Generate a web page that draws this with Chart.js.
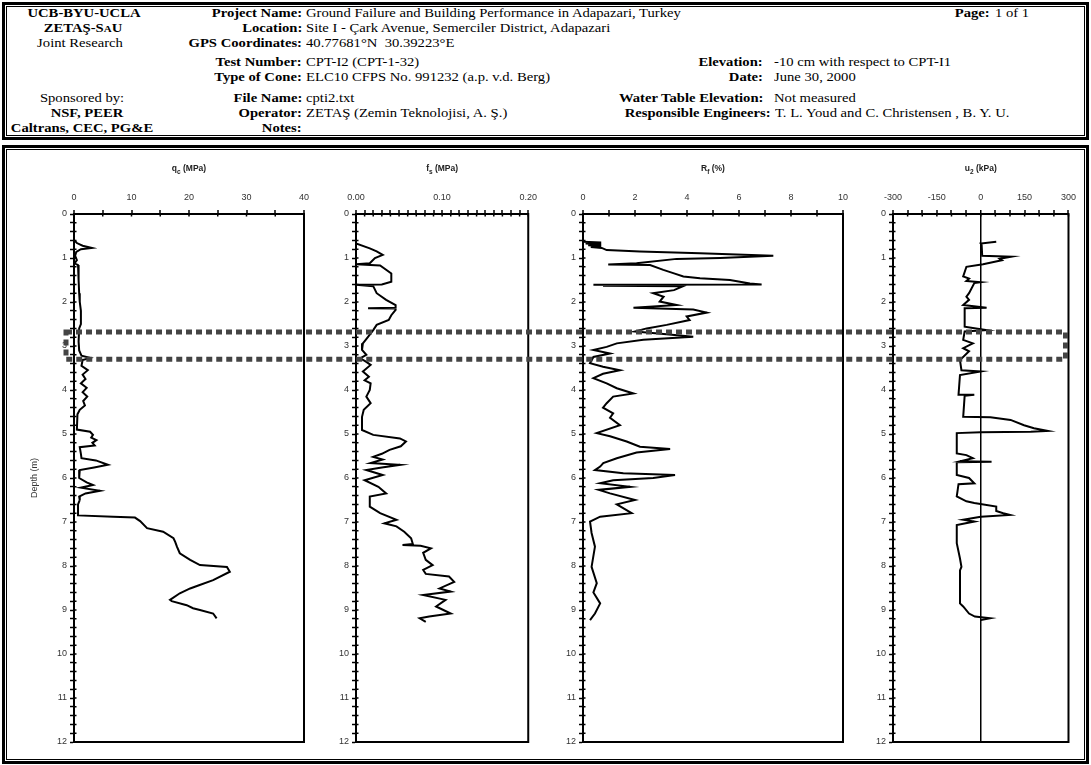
<!DOCTYPE html>
<html>
<head>
<meta charset="utf-8">
<title>CPT-I2 sounding log</title>
<script src="https://cdn.jsdelivr.net/npm/chart.js@4.4.1/dist/chart.umd.min.js"></script>
<style>
  html, body { margin: 0; padding: 0; background: #fff; }
  #page { position: relative; width: 1091px; height: 765px; overflow: hidden;
          font-family: "Liberation Serif", "Times New Roman", serif; color: #000; }
  .box { position: absolute; border: 3px solid #000; box-sizing: border-box; }
  .box .inner { position: absolute; left: 1px; top: 1px; right: 1px; bottom: 1px; border: 1px solid #000; }
  .t { position: absolute; white-space: nowrap; font-size: 12px; line-height: 14px; }
  .b { font-weight: bold; }
  canvas { position: absolute; }
</style>
</head>
<body>
<div id="page">
  <div class="box" style="left:2px;top:2px;width:1087px;height:138px;"><div class="inner"></div></div>
  <div class="box" style="left:2px;top:145px;width:1087px;height:619px;"><div class="inner"></div></div>
  <div id="header"></div>
  <canvas id="c0"></canvas>
  <canvas id="c1"></canvas>
  <canvas id="c2"></canvas>
  <canvas id="c3"></canvas>
  <canvas id="overlay" width="1091" height="765" style="left:0;top:0;pointer-events:none;"></canvas>
</div>
<script>
// ---- sounding data: depth (m) and measured value ----
const qcDepth = [0.59,0.66,0.72,0.77,0.80,0.86,0.95,1.05,1.12,1.16,1.50,1.80,2.00,2.20,2.50,2.60,2.90,3.10,3.22,3.27,3.32,3.45,3.55,3.65,3.75,3.85,3.95,4.05,4.15,4.25,4.35,4.45,4.55,4.90,4.95,5.02,5.08,5.14,5.20,5.26,5.30,5.45,5.55,5.60,5.70,5.76,5.82,6.00,6.10,6.16,6.22,6.29,6.35,6.42,6.50,6.60,6.85,6.88,6.90,6.98,7.14,7.22,7.37,7.45,7.56,7.71,7.86,7.98,8.02,8.13,8.32,8.45,8.51,8.62,8.77,8.80,8.89,8.96,9.00,9.08,9.19];
const qcValue = [0.0,0.5,1.5,3.1,1.2,0.4,0.2,0.5,0.1,0.7,0.8,0.9,1.0,1.2,1.2,0.9,0.8,0.9,1.3,2.8,1.5,1.3,2.4,1.5,2.0,1.2,2.2,1.5,2.3,1.6,1.9,1.0,0.6,0.5,2.8,3.3,3.0,3.9,3.2,3.6,1.0,1.2,1.3,3.8,5.9,3.5,1.0,0.9,2.2,3.3,1.2,4.5,2.0,0.9,1.0,0.7,0.7,6.8,10.6,11.5,12.7,15.5,17.3,17.6,17.9,18.4,20.2,21.9,26.6,27.1,24.2,21.5,20.2,18.4,16.7,17.0,19.6,20.7,21.9,24.2,24.8];

const fsDepth = [0.67,0.78,0.85,0.93,1.00,1.12,1.14,1.17,1.35,1.54,1.60,1.61,1.64,1.80,1.95,2.07,2.13,2.14,2.15,2.18,2.30,2.41,2.52,2.64,2.79,2.94,3.09,3.20,3.28,3.36,3.43,3.58,3.70,3.78,3.85,4.00,4.15,4.30,4.45,4.61,4.91,5.02,5.10,5.17,5.28,5.36,5.45,5.52,5.58,5.66,5.70,5.76,5.82,5.93,6.05,6.20,6.35,6.42,6.65,6.80,6.95,7.03,7.10,7.22,7.37,7.50,7.52,7.54,7.60,7.70,7.86,7.98,8.09,8.18,8.24,8.36,8.51,8.58,8.66,8.77,8.92,9.08,9.15,9.19,9.27];
const fsValue = [0.000,0.016,0.024,0.031,0.022,0.016,0.000,0.028,0.041,0.041,0.030,0.000,0.020,0.024,0.035,0.046,0.046,0.014,0.046,0.046,0.041,0.038,0.024,0.020,0.014,0.008,0.007,0.012,0.005,0.012,0.017,0.008,0.015,0.010,0.017,0.016,0.012,0.017,0.009,0.007,0.007,0.020,0.051,0.058,0.052,0.039,0.030,0.020,0.031,0.017,0.051,0.030,0.012,0.031,0.010,0.026,0.035,0.016,0.016,0.028,0.047,0.033,0.047,0.056,0.064,0.066,0.054,0.075,0.087,0.078,0.081,0.089,0.078,0.081,0.108,0.114,0.097,0.110,0.078,0.104,0.093,0.110,0.085,0.074,0.081];

const rfDepth = [0.63,0.65,0.67,0.69,0.71,0.73,0.75,0.77,0.82,0.85,0.89,0.95,1.00,1.02,1.12,1.15,1.16,1.27,1.35,1.42,1.46,1.50,1.58,1.60,1.61,1.615,1.62,1.625,1.63,1.64,1.73,1.80,1.88,1.99,2.07,2.13,2.17,2.24,2.33,2.41,2.52,2.60,2.67,2.72,2.79,2.86,2.94,3.02,3.09,3.17,3.25,3.39,3.47,3.55,3.63,3.73,3.85,3.96,4.08,4.15,4.30,4.40,4.53,4.63,4.80,4.98,5.05,5.17,5.29,5.34,5.42,5.55,5.66,5.74,5.82,5.89,5.93,6.00,6.05,6.12,6.20,6.27,6.35,6.50,6.60,6.80,6.88,6.99,7.25,7.56,8.02,8.39,8.60,8.85,9.08,9.23];
const rfValue = [0.00,0.70,0.10,0.70,0.20,0.70,0.30,0.72,0.91,2.19,4.50,7.32,5.27,3.60,2.06,0.97,2.58,3.09,3.50,3.86,4.50,5.65,6.42,6.87,0.40,3.50,0.80,3.70,0.77,3.85,3.50,2.70,3.10,2.95,3.60,1.94,4.24,4.76,3.99,4.10,3.22,2.45,2.00,3.00,4.24,2.32,1.30,0.91,0.40,1.04,0.40,0.27,0.77,1.42,0.77,0.40,0.91,1.30,1.94,1.16,0.91,0.77,1.16,1.04,1.42,0.53,1.04,1.68,2.19,3.35,2.06,1.30,0.78,0.66,0.46,1.55,3.54,2.70,1.16,0.66,1.81,0.60,1.04,2.00,1.30,1.87,0.66,0.27,0.33,0.46,0.33,0.53,0.40,0.66,0.46,0.27];

const u2Depth = [0.63,0.67,0.70,0.95,0.97,1.02,1.05,1.14,1.20,1.42,1.47,1.52,1.55,1.57,1.80,1.88,1.95,2.07,2.13,2.14,2.41,2.56,2.64,2.67,2.86,2.94,3.05,3.12,3.32,3.55,3.58,3.66,4.11,4.11,4.13,4.61,4.62,4.68,4.80,4.87,4.93,4.95,4.96,4.98,5.44,5.48,5.55,5.62,5.63,5.64,5.93,6.00,6.12,6.14,6.42,6.53,6.57,6.65,6.75,6.80,6.84,6.88,6.95,6.99,7.07,7.48,7.83,8.02,8.10,8.85,8.92,9.08,9.15,9.19,9.23];
const u2Value = [53,0,3,5,105,65,72,8,-49,-60,-40,-49,0,-22,-40,-49,-40,-60,20,-55,-55,-55,20,-55,-60,-27,-60,-40,-71,-66,0,-71,-76,-22,-55,-60,33,102,148,182,229,171,0,-82,-82,-49,-27,-71,37,-82,-82,-40,-22,-76,-82,-49,-22,53,53,77,100,0,-60,-22,-82,-82,-71,-66,-71,-71,-60,-40,-20,32,0];

// ---- axis ranges and tick labels ----
const depthRange = [0, 12];
const qcAxis = { min: 0, max: 40, step: 5, labels: ['0', '10', '20', '30', '40'] };
const fsAxis = { min: 0, max: 0.2, step: 0.01, labels: ['0.00', '0.10', '0.20'] };
const rfAxis = { min: 0, max: 10, step: 1, labels: ['0', '2', '4', '6', '8', '10'] };
const u2Axis = { min: -300, max: 300, step: 50, labels: ['-300', '-150', '0', '150', '300'] };
const markedLayer = [2.68, 3.30];   // depth band outlined across all logs

// ---- header block ----
const header = document.getElementById('header');
function put(html, x, y, align, cls, sx) {
  const el = document.createElement('div');
  el.className = 't' + (cls ? ' ' + cls : '');
  el.innerHTML = html;
  el.style.top = (y - 7) + 'px';
  const s = sx || 1.22;
  if (align === 'left') {
    el.style.left = x + 'px';
    el.style.transformOrigin = 'left center';
    el.style.transform = 'scaleX(' + s + ')';
  } else if (align === 'right') {
    el.style.right = (1091 - x) + 'px';
    el.style.transformOrigin = 'right center';
    el.style.transform = 'scaleX(' + s + ')';
  } else {
    el.style.left = x + 'px';
    el.style.transformOrigin = 'center center';
    el.style.transform = 'translateX(-50%) scaleX(' + s + ')';
  }
  header.appendChild(el);
}
const rows = [13, 28, 43, 62, 77, 98, 113, 128];
put('UCB-BYU-UCLA', 84, rows[0], 'center', 'b');
put('ZETAŞ-S<span style="font-size:9px">A</span>U', 83, rows[1], 'center', 'b');
put('Joint Research', 80, rows[2], 'center', '');
put('Sponsored by:', 82, rows[5], 'center', '');
put('NSF, PEER', 87, rows[6], 'center', 'b');
put('Caltrans, CEC, PG&amp;E', 82, rows[7], 'center', 'b');

const labels1 = ['Project Name:', 'Location:', 'GPS Coordinates:', 'Test Number:', 'Type of Cone:', 'File Name:', 'Operator:', 'Notes:'];
const values1 = ['Ground Failure and Building Performance in Adapazari, Turkey',
  'Site I - Çark Avenue, Semerciler District, Adapazari',
  '40.77681°N&nbsp;&nbsp;30.39223°E',
  'CPT-I2 (CPT-1-32)',
  'ELC10 CFPS No. 991232 (a.p. v.d. Berg)',
  'cpti2.txt',
  'ZETAŞ (Zemin Teknolojisi, A. Ş.)',
  ''];
labels1.forEach((l, i) => { put(l, 302, rows[i], 'right', 'b'); put(values1[i], 306, rows[i], 'left', ''); });

put('Elevation:', 763, rows[3], 'right', 'b');
put('-10 cm with respect to CPT-I1', 774, rows[3], 'left', '');
put('Date:', 763, rows[4], 'right', 'b');
put('June 30, 2000', 774, rows[4], 'left', '');
put('Water Table Elevation:', 763, rows[5], 'right', 'b');
put('Not measured', 774, rows[5], 'left', '');
put('Responsible Engineers:', 771, rows[6], 'right', 'b');
put('T. L. Youd and C. Christensen , B. Y. U.', 775, rows[6], 'left', '');
put('Page:', 990, rows[0], 'right', 'b');
put('1 of 1', 995, rows[0], 'left', '');

// ---- charts ----
Chart.defaults.font.family = '"Liberation Sans", Arial, sans-serif';
Chart.defaults.font.size = 9;
Chart.defaults.color = '#333';

// plot frame (right and bottom edges of each log)
const frame = {
  id: 'frame',
  beforeDatasetsDraw(chart) {
    const a = chart.chartArea, ctx = chart.ctx;
    ctx.save();
    ctx.strokeStyle = '#000';
    ctx.lineWidth = 2;
    ctx.strokeRect(a.left, a.top, a.right - a.left, a.bottom - a.top);
    ctx.restore();
  }
};
// short inward stubs so tick marks cross the axis lines
const innerTicks = {
  id: 'innerTicks',
  afterDraw(chart) {
    const ctx = chart.ctx, a = chart.chartArea;
    ctx.save();
    ctx.strokeStyle = '#000';
    ctx.lineWidth = 1.5;
    ctx.beginPath();
    const y = chart.scales.y;
    y.ticks.forEach((t, i) => {
      const p = y.getPixelForTick(i);
      ctx.moveTo(a.left, p); ctx.lineTo(a.left + 2.5, p);
    });
    const x = chart.scales.x;
    x.ticks.forEach((t, i) => {
      const p = x.getPixelForTick(i);
      ctx.moveTo(p, a.top); ctx.lineTo(p, a.top + 2.5);
    });
    ctx.stroke();
    ctx.restore();
  }
};
const logTitle = {
  id: 'logTitle',
  afterDraw(chart, args, opts) {
    const ctx = chart.ctx, a = chart.chartArea;
    const big = 'bold 8.5px "Liberation Sans", Arial, sans-serif';
    const small = 'bold 6.5px "Liberation Sans", Arial, sans-serif';
    ctx.save();
    ctx.fillStyle = '#222';
    ctx.textBaseline = 'middle';
    ctx.font = big; const w1 = ctx.measureText(opts.main).width;
    const w3 = ctx.measureText(opts.rest).width;
    ctx.font = small; const w2 = ctx.measureText(opts.sub).width;
    let x = (a.left + a.right) / 2 - (w1 + w2 + w3) / 2;
    const y = a.top - 45;
    ctx.font = big; ctx.fillText(opts.main, x, y); x += w1;
    ctx.font = small; ctx.fillText(opts.sub, x, y + 3); x += w2;
    ctx.font = big; ctx.fillText(opts.rest, x, y);
    ctx.restore();
  }
};

function pts(depth, vals) { return depth.map((d, i) => ({ x: vals[i], y: d })); }
function labelFor(v, axis) {
  const l = axis.labels.find(t => Math.abs(parseFloat(t) - v) < axis.step * 1e-3);
  return l === undefined ? '' : l;
}

const logs = [
  { id: 'c0', left: 20, yw: 54, plotW: 230, axis: qcAxis, depth: qcDepth, vals: qcValue, title: ['q', 'c', ' (MPa)'], depthTitle: true },
  { id: 'c1', left: 320, yw: 36, plotW: 174, axis: fsAxis, depth: fsDepth, vals: fsValue, title: ['f', 's', ' (MPa)'] },
  { id: 'c2', left: 548, yw: 35, plotW: 260, axis: rfAxis, depth: rfDepth, vals: rfValue, title: ['R', 'f', ' (%)'] },
  { id: 'c3', left: 858, yw: 35, plotW: 176, axis: u2Axis, depth: u2Depth, vals: u2Value, title: ['u', '2', ' (kPa)'], zeroLine: true }
];

const TOP = 150, AXIS_H = 64, PLOT_H = 528, PAD_R = 14, PAD_B = 10;
const charts = logs.map(L => {
  const cv = document.getElementById(L.id);
  const W = L.yw + L.plotW + PAD_R, H = AXIS_H + PLOT_H + PAD_B;
  cv.width = W; cv.height = H;
  cv.style.left = L.left + 'px'; cv.style.top = TOP + 'px';
  return new Chart(cv, {
    type: 'scatter',
    data: { datasets: [{ data: pts(L.depth, L.vals), showLine: true, borderColor: '#000', borderWidth: 2,
                         pointRadius: 0, tension: 0, fill: false }] },
    options: {
      responsive: false, animation: false, devicePixelRatio: 1,
      layout: { padding: { top: 0, left: 0, right: PAD_R, bottom: PAD_B } },
      plugins: { legend: { display: false }, tooltip: { enabled: false },
                 logTitle: { main: L.title[0], sub: L.title[1], rest: L.title[2] } },
      scales: {
        x: {
          type: 'linear', position: 'top', min: L.axis.min, max: L.axis.max,
          afterFit(s) { s.height = AXIS_H; },
          border: { display: true, color: '#000', width: 2 },
          grid: {
            drawOnChartArea: !!L.zeroLine, drawTicks: true, tickLength: 4, tickColor: '#000', tickWidth: 1.5,
            color: c => (L.zeroLine && c.tick && c.tick.value === 0) ? '#000' : 'rgba(0,0,0,0)',
            lineWidth: c => (L.zeroLine && c.tick && c.tick.value === 0) ? 1.5 : 0
          },
          ticks: { stepSize: L.axis.step, autoSkip: false, maxRotation: 0, minRotation: 0, padding: 7,
                   callback: v => labelFor(v, L.axis) }
        },
        y: {
          type: 'linear', reverse: true, min: depthRange[0], max: depthRange[1],
          afterFit(s) { s.width = L.yw; },
          border: { display: true, color: '#000', width: 2 },
          grid: { drawOnChartArea: false, drawTicks: true, tickLength: 4, tickColor: '#000', tickWidth: 1.5 },
          ticks: { stepSize: 0.2, autoSkip: false, padding: 3,
                   callback: v => Math.abs(v - Math.round(v)) < 1e-6 ? String(Math.round(v)) : '' },
          title: { display: !!L.depthTitle, text: 'Depth (m)', padding: { top: 9, bottom: 0 }, color: '#333',
                   font: { size: 9 } }
        }
      }
    },
    plugins: [frame, innerTicks, logTitle]
  });
});

// dashed outline of the marked layer, spanning all four logs
(function drawLayer() {
  const first = charts[0], last = charts[charts.length - 1];
  const c0 = document.getElementById(logs[0].id), c3 = document.getElementById(logs[logs.length - 1].id);
  const yTop = c0.offsetTop + first.scales.y.getPixelForValue(markedLayer[0]);
  const yBot = c0.offsetTop + first.scales.y.getPixelForValue(markedLayer[1]);
  const xL = c0.offsetLeft + first.chartArea.left - 8;
  const xR = c3.offsetLeft + last.chartArea.right - 3;
  const ctx = document.getElementById('overlay').getContext('2d');
  ctx.save();
  ctx.strokeStyle = '#444';
  ctx.lineWidth = 5;
  ctx.setLineDash([6, 4]);
  ctx.strokeRect(xL, yTop, xR - xL, yBot - yTop);
  ctx.restore();
})();
</script>
</body>
</html>
